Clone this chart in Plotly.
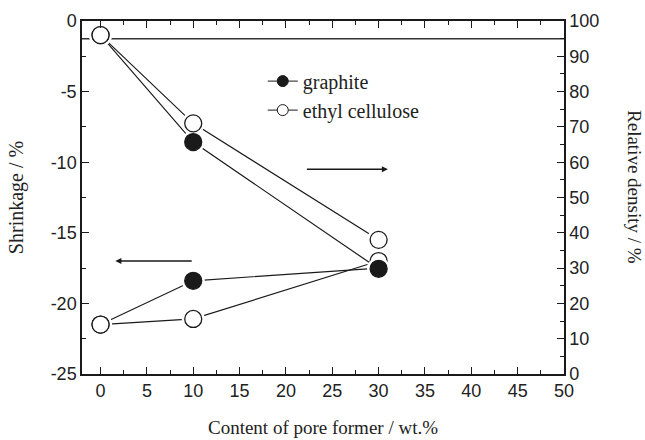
import plotly.graph_objects as go

# ---- data ----
content = [0, 10, 30]
shrink_graphite = [-21.5, -18.4, -17.5]
shrink_ethyl = [-21.5, -21.1, -17.0]
density_graphite = [96.0, 65.7, 29.8]
density_ethyl = [96.0, 71.0, 38.0]
ref_line_x = [-2, 50]
ref_line_density = [95, 95]

x_ticks = [0, 5, 10, 15, 20, 25, 30, 35, 40, 45, 50]
y_ticks = [0, -5, -10, -15, -20, -25]
y_ticktext = ["0", "-5", "-10", "-15", "-20", "-25"]
y2_ticks = [0, 10, 20, 30, 40, 50, 60, 70, 80, 90, 100]

# ---- styles ----
INK = "#1a1a1a"
SERIF = "Liberation Serif"
SANS = "Liberation Sans"
MSIZE = 17
HALO = 23

series = [
    (content, shrink_graphite, "y", INK),
    (content, shrink_ethyl, "y", "white"),
    (content, density_graphite, "y2", INK),
    (content, density_ethyl, "y2", "white"),
]

fig = go.Figure()

# reference line (right axis)
fig.add_trace(go.Scatter(x=ref_line_x, y=ref_line_density, yaxis="y2", mode="lines",
                         line=dict(color="#333", width=1.5), showlegend=False, hoverinfo="skip"))

# connecting lines
for xs, ys, ax, fill in series:
    fig.add_trace(go.Scatter(x=xs, y=ys, yaxis=ax, mode="lines",
                             line=dict(color=INK, width=1.2), showlegend=False))
# white halos -> line gaps around markers
for xs, ys, ax, fill in series:
    fig.add_trace(go.Scatter(x=xs, y=ys, yaxis=ax, mode="markers",
                             marker=dict(size=HALO, color="white", line=dict(width=0)),
                             showlegend=False, hoverinfo="skip"))
# markers
for xs, ys, ax, fill in series:
    fig.add_trace(go.Scatter(x=xs, y=ys, yaxis=ax, mode="markers",
                             marker=dict(size=MSIZE, color=fill, line=dict(color=INK, width=1.3)),
                             showlegend=False))

# legend entries
fig.add_trace(go.Scatter(x=[None], y=[None], mode="lines+markers", name="graphite",
                         line=dict(color=INK, width=1),
                         marker=dict(color=INK, size=11, line=dict(color=INK, width=1))))
fig.add_trace(go.Scatter(x=[None], y=[None], mode="lines+markers", name="ethyl cellulose",
                         line=dict(color=INK, width=1),
                         marker=dict(color="white", size=11, line=dict(color=INK, width=1))))

tickfont = dict(family=SANS, size=18, color="#222")

fig.update_layout(
    width=645, height=440,
    margin=dict(l=82, r=81, t=21, b=66),
    paper_bgcolor="white", plot_bgcolor="white",
    showlegend=True,
    legend=dict(x=0.375, y=0.885, xanchor="left", yanchor="top",
                font=dict(family=SERIF, size=20, color="#222"),
                bgcolor="rgba(0,0,0,0)", tracegroupgap=0),
    xaxis=dict(range=[-2, 50], tickvals=x_ticks, ticks="inside", ticklen=7, tickwidth=1.3,
               tickcolor=INK, showline=True, linecolor=INK, linewidth=1.5, mirror="ticks",
               showgrid=False, zeroline=False, tickfont=tickfont, automargin=False,
               minor=dict(ticks="inside", ticklen=4, dtick=2.5, tick0=0, tickcolor=INK, showgrid=False),
               title=dict(text="Content of pore former / wt.%", font=dict(family=SERIF, size=19, color="#222"),
                          standoff=20)),
    yaxis=dict(range=[-25, 0], tickvals=y_ticks, ticktext=y_ticktext, ticks="inside", ticklen=7,
               tickwidth=1.3, tickcolor=INK, showline=True, linecolor=INK, linewidth=1.5,
               showgrid=False, zeroline=False, tickfont=tickfont, automargin=False,
               minor=dict(ticks="inside", ticklen=4, dtick=2.5, tick0=0, tickcolor=INK, showgrid=False),
               title=dict(text="Shrinkage / %", font=dict(family=SERIF, size=20, color="#222"),
                          standoff=22)),
    yaxis2=dict(range=[0, 100], tickvals=y2_ticks, overlaying="y", side="right",
                ticks="inside", ticklen=7, tickwidth=1.3, tickcolor=INK,
                showline=True, linecolor=INK, linewidth=1.5, automargin=False,
                showgrid=False, zeroline=False, tickfont=tickfont,
                minor=dict(ticks="inside", ticklen=4, dtick=5, tick0=0, tickcolor=INK, showgrid=False)),
    annotations=[
        dict(text="Relative density / %", textangle=90, xref="paper", yref="paper",
             x=1.145, y=0.53, xanchor="center", yanchor="middle", showarrow=False,
             font=dict(family=SERIF, size=19, color="#222")),
        dict(x=31.0, y=-10.5, ax=22.1, ay=-10.5, xref="x", yref="y", axref="x", ayref="y",
             showarrow=True, arrowhead=2, arrowsize=0.8, arrowwidth=1.5, arrowcolor=INK, text=""),
        dict(x=1.6, y=-17.0, ax=10.0, ay=-17.0, xref="x", yref="y", axref="x", ayref="y",
             showarrow=True, arrowhead=2, arrowsize=0.8, arrowwidth=1.5, arrowcolor=INK, text=""),
    ],
)

fig.write_html("out.html")
